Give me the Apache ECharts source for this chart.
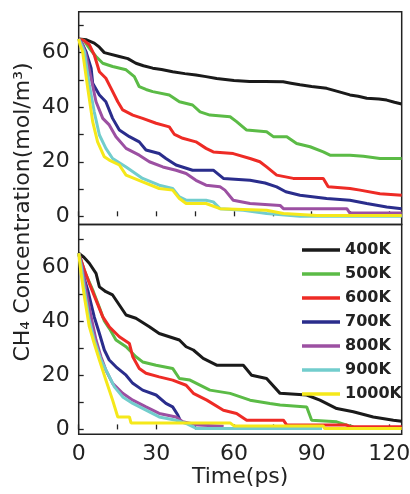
<!DOCTYPE html>
<html>
<head>
<meta charset="utf-8">
<script src="https://cdn.jsdelivr.net/npm/echarts@6/dist/echarts.min.js"></script>
<style>html,body{margin:0;padding:0;background:#fff;}#c{width:410px;height:494px;}</style>
</head>
<body>
<div id="c"></div>
<script>
// ---- data (time in ps, CH4 concentration in mol/m3) ----
const names = ['400K','500K','600K','700K','800K','900K','1000K'];
const colors = ['#1a1a1a','#5bbb46','#ee2b25','#2a2d8c','#9c50a2','#72cdcd','#f5e81a'];

const top400 = [[0,65],[3,64.7],[6,63.5],[8,62],[9.9,60],[15.7,58.6],[19,57.8],[22.1,56.1],[25,55.2],[28.6,54.3],[32,53.8],[36.3,53],[41,52.3],[45.3,51.8],[49.2,51.2],[53.3,50.5],[60,49.8],[66,49.4],[72,49.4],[79,49.3],[82,48.8],[85.5,48.2],[90,47.6],[95.8,46.9],[100,45.8],[104.8,44.5],[108,44],[111.3,43.3],[116,43],[119,42.6],[122,41.8],[124.8,41.2]];
const top500 = [[0,65],[2,64.5],[4.1,61.6],[6.7,58.6],[9.3,56.1],[13.1,54.9],[18.3,53.7],[21.5,51.2],[23.4,47.5],[26,46.5],[28.6,45.7],[35,44.5],[38.9,42],[44,40.8],[46.9,38.3],[50.7,37.1],[58.5,36.5],[61,34.7],[64.9,31.6],[72.6,31],[75.2,29.2],[80.4,29.2],[84.2,26.7],[89.4,25.5],[94.5,23.6],[97.1,22.4],[104.8,22.4],[110,22],[116.4,21.2],[124.8,21.2]];
const top600 = [[0,65],[2,64.5],[4.1,62.9],[6,59.2],[8,53],[10.5,50.6],[12.5,46.9],[15.1,42],[17,39],[20.9,37.1],[24.7,35.9],[29.9,34.1],[35,32.8],[37,30],[40.2,28.6],[45.3,27.3],[49.2,24.9],[52,23.6],[59.7,23],[66.2,21.2],[70,20],[72.6,18.1],[76.5,15.1],[82.9,13.9],[94.5,13.9],[96.4,10.8],[104.8,10.2],[108.7,9.6],[116.4,8.3],[124.8,7.7]];
const top700 = [[0,65],[1.5,63],[2.8,60.4],[4.8,54.3],[5.4,48.8],[8,44.5],[10.5,42],[13.1,35.9],[15.7,31.6],[19.6,29.2],[23.4,27.3],[26,24.3],[31.1,23],[33.7,21.2],[37.6,18.8],[44,16.9],[52,16.9],[55.9,13.9],[66.2,13.2],[72,12.2],[76.5,10.8],[80,9],[85.5,7.7],[95.8,6.5],[104.8,5.9],[111.3,4.7],[119,3.4],[124.8,2.8]];
const top800 = [[0,65],[1.5,63],[2.8,59.2],[4.8,50.6],[6.7,42],[9.3,35.9],[11.8,33.5],[14.4,29.2],[18.3,24.9],[23.4,22.4],[27.3,20],[32.5,18.1],[37.6,16.9],[41.5,15.7],[45.3,13.2],[49.2,11.4],[54.6,10.8],[56.5,9.6],[59.7,5.9],[66.2,4.7],[77.8,4],[79.1,2.8],[103.6,2.8],[104.8,1.2],[124.8,1.2]];
const top900 = [[0,65],[1,63],[2.2,60.4],[4.1,48.2],[6,38.3],[8,29.8],[10.5,24.9],[13.1,21.2],[18.3,18.1],[24.7,13.9],[31.1,11.4],[36.3,10.2],[38.9,7.1],[41.5,5.9],[49.2,5.9],[52,5.3],[54.6,2.8],[63.6,2.2],[72.6,1],[85.5,0],[124.8,0]];
const top1000 = [[0,65],[0.5,63],[1.5,60.4],[3.5,46.9],[5.4,34.7],[7.3,27.3],[9.9,21.8],[11.8,20.6],[15.7,18.8],[18.3,15.1],[24.7,12.6],[31.1,10.2],[36.3,9.6],[38.9,6.5],[41.5,4.7],[49.2,4.7],[54.6,2.8],[72.6,2.2],[79.1,1],[92,0.3],[124.8,0.3]];

const bot400 = [[0,65],[2,63.5],[4.1,61.3],[6.7,57.6],[8,52.6],[10.5,50.8],[13.1,49.6],[15.7,45.9],[18.3,42.2],[22.1,41],[27.3,37.9],[31.1,35.4],[35,34.2],[38.9,33],[41.5,30.5],[44.3,29.3],[48.1,26.2],[53.3,23.7],[63.6,23.7],[66.8,20],[72.6,18.8],[77.8,13.3],[88.1,12.7],[93.2,10.8],[99.7,7.7],[106.1,6.5],[113.8,4.6],[121.6,3.4],[124.8,3]];
const bot500 = [[0,65],[2.4,58],[5.6,51],[8,45],[9.9,40],[12,37],[14.4,33],[18.3,30.5],[22.1,26.8],[24.7,24.9],[29.9,23.7],[36.3,22.5],[38.9,18.8],[43,18.2],[50.7,14.5],[58.5,13.3],[66.2,10.8],[73.9,9.6],[77.8,9],[88.1,8.3],[90,3.4],[99.7,2.8],[103.6,1.6],[106.1,1]];
const bot600 = [[0,65],[2.2,58.8],[4.1,53.9],[6.7,47.7],[9.3,41.5],[11.8,37.9],[15.7,34.2],[19.6,31.7],[20.9,26.8],[23.4,22.5],[26,20.7],[31.1,19.4],[36.3,18.2],[41.5,16.3],[44.3,13.3],[49.5,10.8],[55.9,7.1],[61,5.9],[64.9,3.4],[79.1,3.4],[80.4,1.6],[103.6,1.6],[104.8,1],[124.8,1]];
const bot700 = [[0,65],[1.5,57.6],[3.5,51.4],[6,41.5],[8,35.4],[9.9,29.3],[11.8,25.6],[14.4,23.1],[18.3,20],[20.9,17],[24.7,14.5],[29.9,12.7],[33.7,9.6],[36.3,8.3],[38.3,5.3],[39.5,2.8]];
const bot800 = [[0,65],[1.3,60],[2.8,51.4],[4.8,41.5],[6.7,33],[8.6,26.8],[10.5,21.9],[13.1,17],[17,13.3],[20.9,10.8],[26,8.3],[31.1,5.9],[37.6,4.6],[40.2,2.8],[46,1.6],[56,1.2]];
const bot900 = [[0,65],[1,60],[2.2,51.4],[4.1,40.3],[6,33],[8.6,25.6],[11.2,20.7],[13.8,15.7],[17,12],[20.9,9.6],[26,7.1],[31.1,4.6],[37.6,3.4],[41.5,2.2],[45.6,0.3],[94,0.3]];
const bot1000 = [[0,65],[0.9,57.6],[2.2,48.9],[4.1,37.9],[6,31.7],[8,25.6],[10.5,18.2],[13.1,10.8],[15.1,4.6],[19.6,4.6],[20.2,2.4],[58.5,2.4],[60,1.3],[94.5,1.3],[95,0.3],[124.8,0.3]];

const xTicks = [0,15,30,45,60,75,90,105,120];
const xLabels = [0,30,60,90,120];
const yTicks = [0,10,20,30,40,50,60,70];
const yLabels = [0,20,40,60];

const topData = [top400, top500, top600, top700, top800, top900, top1000];
const botData = [bot400, bot500, bot600, bot700, bot800, bot900, bot1000];

// ---- chart ----
const FONT = '"DejaVu Sans", "Liberation Sans", Arial, sans-serif';
const INK = '#222';

function xAxis(gridIndex, showLabels, name) {
  return {
    type: 'value', gridIndex, min: 0, max: 124.8,
    axisLine: { show: false },
    axisTick: { show: true, inside: true, length: 5, customValues: xTicks, lineStyle: { color: INK, width: 1.3 } },
    axisLabel: { show: showLabels, customValues: xLabels, margin: 9, color: INK, fontSize: 22, fontFamily: FONT },
    splitLine: { show: false },
    name: name || '', nameLocation: 'middle', nameGap: 31,
    nameTextStyle: { color: INK, fontSize: 22, fontFamily: FONT }
  };
}
function yAxis(gridIndex, min, max) {
  return {
    type: 'value', gridIndex, min, max,
    axisLine: { show: false },
    axisTick: { show: true, inside: true, length: 5, customValues: yTicks, lineStyle: { color: INK, width: 1.3 } },
    axisLabel: { customValues: yLabels, margin: 9, color: INK, fontSize: 22, fontFamily: FONT },
    splitLine: { show: false }
  };
}

const series = [];
names.forEach((n, i) => {
  series.push({ name: n, type: 'line', xAxisIndex: 0, yAxisIndex: 0, data: topData[i], showSymbol: false,
    lineStyle: { color: colors[i], width: 3 }, itemStyle: { color: colors[i] }, z: 2 + i });
});
names.forEach((n, i) => {
  series.push({ name: n, type: 'line', xAxisIndex: 1, yAxisIndex: 1, data: botData[i], showSymbol: false,
    lineStyle: { color: colors[i], width: 3 }, itemStyle: { color: colors[i] }, z: 2 + i });
});

const chart = echarts.init(document.getElementById('c'), null, { renderer: 'canvas' });
chart.setOption({
  animation: false,
  backgroundColor: '#fff',
  grid: [
    { left: 78.7, top: 11.7, width: 323, height: 212.8, show: true, borderColor: INK, borderWidth: 1.5, backgroundColor: 'transparent', outerBoundsMode: 'none' },
    { left: 78.7, top: 224.5, width: 323, height: 209.8, show: true, borderColor: INK, borderWidth: 1.5, backgroundColor: 'transparent', outerBoundsMode: 'none' }
  ],
  xAxis: [xAxis(0, false), xAxis(1, true, 'Time(ps)')],
  yAxis: [yAxis(0, -3, 75), yAxis(1, -1.8, 75.6)],
  legend: {
    data: names, orient: 'vertical', left: 297, top: 233,
    itemWidth: 38, itemHeight: 3.5, itemGap: 0, icon: 'rect',
    textStyle: { color: INK, fontSize: 16, fontWeight: 'bold', fontFamily: FONT, lineHeight: 24 },
    selectedMode: false
  },
  graphic: [{
    type: 'text', x: 23, y: 212, rotation: Math.PI / 2,
    style: { text: 'CH₄ Concentration(mol/m³)', fill: INK, font: '22px ' + FONT, textAlign: 'center', textVerticalAlign: 'middle' }
  }],
  series
});
</script>
</body>
</html>
